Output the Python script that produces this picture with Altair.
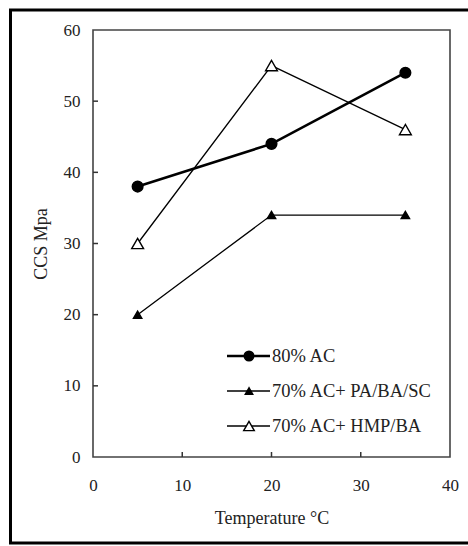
import altair as alt
import pandas as pd

temps = [5, 20, 35]
ccs_80ac = [38, 44, 54]
ccs_pa = [20, 34, 34]
ccs_hmp = [30, 55, 46]
series_names = ["80% AC", "70% AC+ PA/BA/SC", "70% AC+ HMP/BA"]
x_ticks = [0, 10, 20, 30, 40]
y_ticks = [0, 10, 20, 30, 40, 50, 60]

W, H = 357, 427
FONT = "Liberation Serif"
TXT = "#222222"

xs = alt.Scale(domain=[0, 40], nice=False, zero=False)
ys = alt.Scale(domain=[0, 60], nice=False)

styles = [
    dict(name=series_names[0], vals=ccs_80ac, shape="circle", fill="black", size=115, sw=2.6),
    dict(name=series_names[1], vals=ccs_pa, shape="triangle-up", fill="black", size=70, sw=1.3),
    dict(name=series_names[2], vals=ccs_hmp, shape="triangle-up", fill="white", size=140, sw=1.3),
]

layers = []
# frame around whole figure
frame_df = pd.DataFrame({"k": [0]})
layers.append(
    alt.Chart(frame_df).mark_rect(fillOpacity=0, stroke="black", strokeWidth=3).encode(
        x=alt.value(-82.5), x2=alt.value(400), y=alt.value(-20), y2=alt.value(513)
    )
)

base_axes_df = pd.DataFrame({"temp": temps, "ccs": ccs_80ac})
axes_layer = alt.Chart(base_axes_df).mark_point(opacity=0).encode(
    x=alt.X("temp:Q", scale=xs, title="Temperature °C",
            axis=alt.Axis(values=x_ticks, labelFlush=False, labelPadding=20, titlePadding=16)),
    y=alt.Y("ccs:Q", scale=ys, title="CCS Mpa",
            axis=alt.Axis(values=y_ticks, labelPadding=13, titlePadding=13)),
)
layers.append(axes_layer)

# inward ticks
xt_df = pd.DataFrame({"t": x_ticks[1:-1]})
yt_df = pd.DataFrame({"t": y_ticks[1:-1]})
layers.append(alt.Chart(xt_df).mark_rule(color="#333", strokeWidth=1.5).encode(
    x=alt.X("t:Q", scale=xs), y=alt.value(H), y2=alt.value(H - 5)))
layers.append(alt.Chart(yt_df).mark_rule(color="#333", strokeWidth=1.5).encode(
    y=alt.Y("t:Q", scale=ys), x=alt.value(0), x2=alt.value(5)))

for s in styles:
    df = pd.DataFrame({"temp": temps, "ccs": s["vals"], "series": s["name"]})
    layers.append(alt.Chart(df).mark_line(color="black", strokeWidth=s["sw"]).encode(
        x=alt.X("temp:Q", scale=xs), y=alt.Y("ccs:Q", scale=ys)))
for s in styles:
    df = pd.DataFrame({"temp": temps, "ccs": s["vals"], "series": s["name"]})
    layers.append(alt.Chart(df).mark_point(
        shape=s["shape"], filled=True, fill=s["fill"], stroke="black",
        strokeWidth=1.4, size=s["size"], opacity=1).encode(
        x=alt.X("temp:Q", scale=xs), y=alt.Y("ccs:Q", scale=ys)))

# manual legend
row_y = [326, 361, 396]
for s, ry in zip(styles, row_y):
    ldf = pd.DataFrame({"label": [s["name"]]})
    layers.append(alt.Chart(ldf).mark_rule(color="black", strokeWidth=s["sw"]).encode(
        x=alt.value(134), x2=alt.value(177), y=alt.value(ry)))
    layers.append(alt.Chart(ldf).mark_point(
        shape=s["shape"], filled=True, fill=s["fill"], stroke="black",
        strokeWidth=1.4, size=s["size"] * 0.8, opacity=1).encode(
        x=alt.value(156), y=alt.value(ry)))
    layers.append(alt.Chart(ldf).mark_text(
        align="left", baseline="middle", font=FONT, fontSize=18.5, color=TXT).encode(
        x=alt.value(179), y=alt.value(ry), text="label:N"))

chart = alt.layer(*layers).properties(
    width=W, height=H,
    autosize=alt.AutoSizeParams(type="none"),
    padding={"left": 93, "top": 30, "right": 18, "bottom": 89},
    background="white",
).configure_view(stroke="#444444", strokeWidth=1.6).configure_axis(
    domain=False, ticks=False, grid=False,
    labelFont=FONT, labelFontSize=17, labelColor=TXT,
    titleFont=FONT, titleFontSize=18, titleFontWeight="normal", titleColor=TXT,
)

chart.save("out.html", embed_options={"renderer": "svg", "actions": False})
